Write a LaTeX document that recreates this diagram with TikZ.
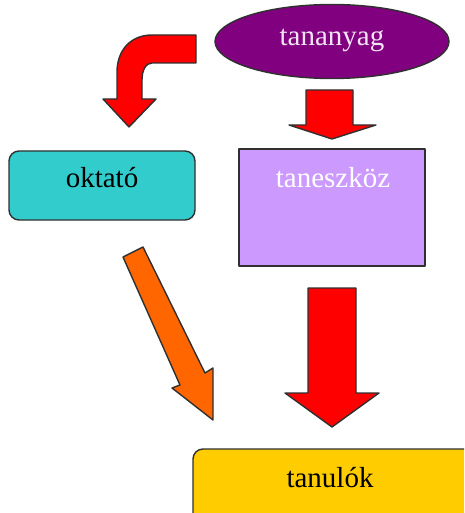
\documentclass[tikz,border=0pt]{standalone}
\usepackage{fontspec}
\setmainfont{Liberation Serif}
\usetikzlibrary{shapes.geometric}
\definecolor{purp}{HTML}{800080}
\definecolor{lavtext}{HTML}{F2E4F2}
\definecolor{teal}{HTML}{33CCCC}
\definecolor{lav}{HTML}{CC99FF}
\definecolor{redf}{HTML}{FF0000}
\definecolor{orangef}{HTML}{FF6600}
\definecolor{yellowf}{HTML}{FFCC00}
\definecolor{edge}{HTML}{303030}
\tikzset{
  outl/.style={draw=edge, line width=1.4pt, line join=round},
  lbl/.style={font=\fontsize{29}{32}\selectfont, inner sep=0pt},
}
\begin{document}
\begin{tikzpicture}[x=1pt,y=-1pt]
\useasboundingbox (0,0) rectangle (464,513);
\clip (0,0) rectangle (464,513);
% boxes
\draw[outl, fill=purp] (332,41.5) ellipse (117 and 37);
\node[lbl, text=lavtext] (tananyag) at (332,40) {tananyag};
\draw[outl, fill=teal, rounded corners=10pt] (9,151) rectangle (195,220);
\node[lbl] (oktato) at (102,178) {oktató};
\draw[outl, fill=lav] (239,149) rectangle (425,266);
\node[lbl, text=white] (taneszkoz) at (333,178) {taneszköz};
\draw[outl, fill=yellowf, rounded corners=10pt] (193,449) rectangle (480,530);
\node[lbl] (tanulok) at (330,478) {tanulók};
% curved arrow
\draw[outl, fill=redf] (196,35) -- (152,35) .. controls (131,35) and (117,50) .. (117,72)
  -- (117,99) -- (103,99) -- (129,127) -- (156,99) -- (142,99) -- (142,80)
  .. controls (142,70) and (146,63) .. (152,63) -- (196,63) -- cycle;
% small down arrow
\draw[outl, fill=redf] (306,90) -- (353,90) -- (353,125) -- (376,125) -- (332,139)
  -- (289,125) -- (306,125) -- cycle;
% orange arrow
\draw[outl, fill=orangef] (123,257) -- (180,385) -- (172,388) -- (213,420) -- (213,368)
  -- (205,373) -- (143,247) -- cycle;
% big down arrow
\draw[outl, fill=redf] (308,288) -- (356,288) -- (356,393) -- (379,393) -- (332,427)
  -- (285,393) -- (308,393) -- cycle;
\end{tikzpicture}
\end{document}
